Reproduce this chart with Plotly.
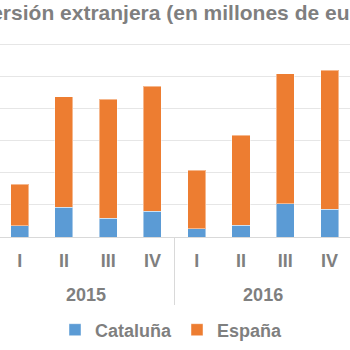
import plotly.graph_objects as go

years = ["2015", "2015", "2015", "2015", "2016", "2016", "2016", "2016"]
quarters = ["I", "II", "III", "IV", "I", "II", "III", "IV"]
cataluna = [700, 1860, 1180, 1600, 500, 740, 2060, 1740]
espana = [2570, 6860, 7400, 7780, 3660, 5580, 8100, 8620]
title_text = "Inversión extranjera (en millones de euros)"

gray = "#7f7f7f"
font_family = "Liberation Sans"
edge = dict(color="rgba(255,255,255,0.45)", width=1)

# invisible taller spacer around the quarter labels to widen the gap to the year row
pad = '<span style="font-size:35px">&nbsp;</span>'
quarter_labels = [pad + q + pad for q in quarters]

fig = go.Figure()
fig.add_bar(x=[years, quarter_labels], y=cataluna, name="Cataluña",
            marker=dict(color="#5b9bd5", line=edge))
fig.add_bar(x=[years, quarter_labels], y=espana, name="España",
            marker=dict(color="#ed7d31", line=edge))

fig.update_layout(
    barmode="stack",
    bargap=0.593,
    width=350, height=350,
    margin=dict(l=0, r=0, t=40, b=113, autoexpand=False),
    plot_bgcolor="white", paper_bgcolor="white",
    font=dict(family=font_family, color=gray),
    title=dict(text=title_text, x=0.5, xref="container", xanchor="center",
               y=1 - 13 / 350, yref="container", yanchor="middle",
               font=dict(family=font_family, size=21, color=gray, weight="bold")),
    legend=dict(orientation="h", traceorder="normal",
                x=0.49, xanchor="center", xref="container",
                y=1 - 330 / 350, yref="container", yanchor="middle",
                font=dict(family=font_family, size=18, color=gray, weight="bold")),
)
fig.update_xaxes(range=[-0.445, 7.463], showline=True, linecolor="#d9d9d9",
                 dividercolor="#d9d9d9", dividerwidth=1, showgrid=False, ticks="",
                 ticklabelstandoff=7, tickangle=0, automargin=False,
                 tickfont=dict(family=font_family, size=18, color=gray, weight="bold"))
fig.update_yaxes(range=[0, 12249], dtick=2000, showticklabels=False, automargin=False,
                 gridcolor="#e6e6e6", gridwidth=1, zeroline=False)

fig.write_html("out.html")
